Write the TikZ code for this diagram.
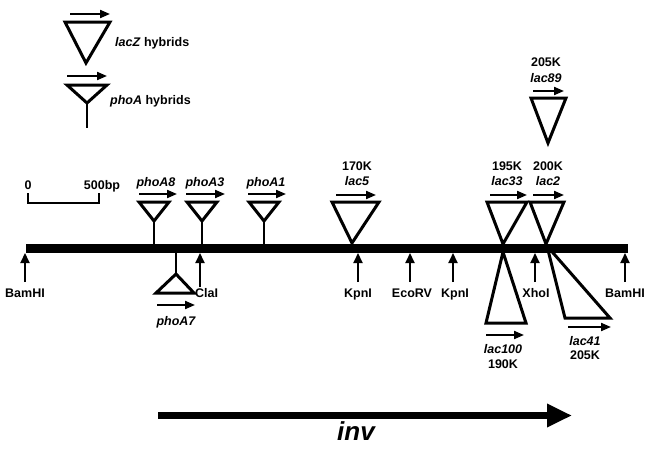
\documentclass[tikz,border=0pt]{standalone}
\usepackage{fontspec}
\setmainfont{Liberation Sans}
\usetikzlibrary{arrows.meta,positioning}

\begin{document}
\begin{tikzpicture}[
    x=1pt, y=-1pt,
    every node/.style={font=\fontsize{12.5}{14}\selectfont\bfseries, inner sep=0pt,
                       text height=9pt, text depth=2.5pt},
    gene/.style={font=\fontsize{12.5}{14}\selectfont\bfseries\itshape},
    ins/.style={line width=3pt, line join=miter},
    stem/.style={line width=2.6pt},
    sense/.style={-{Triangle[length=10pt,width=8pt]}, line width=2pt},
    site/.style={-{Triangle[length=10pt,width=9pt]}, line width=2pt},
  ]
  \useasboundingbox (0,0) rectangle (650,450);

  % key
  \draw[ins] (65,22) -- (110,22) -- (86,63) -- cycle;
  \draw[sense] (70,14) -- (110,14);
  \node[anchor=west] (keylac) at (115,43) {\textit{lacZ} hybrids};
  \draw[ins] (67,85) -- (107,85) -- (87,103) -- cycle;
  \draw[stem] (87,103) -- (87,128);
  \draw[sense] (67,76) -- (107,76);
  \node[anchor=west] (keypho) at (110,101) {\textit{phoA} hybrids};

  % scale
  \node (zero) at (28,186) {0};
  \node (bp) at (102,186) {500bp};
  \draw[line width=1.2pt] (28,193) -- (28,203) -- (99,203) -- (99,193);

  % map
  \coordinate (bamL) at (26,248.5);
  \coordinate (bamR) at (628,248.5);
  \draw[line width=9pt] (bamL) -- (bamR);

  % sites
  \coordinate (s1) at (25,253);  \node (bam1) at (25,294) {BamHI};
  \coordinate (s2) at (200,253); \node[anchor=west] (cla) at (195,294) {ClaI};
  \coordinate (s3) at (358,253); \node (kpn1) at (358,294) {KpnI};
  \coordinate (s4) at (410,253); \node (eco) at (412,294) {EcoRV};
  \coordinate (s5) at (453,253); \node (kpn2) at (455,294) {KpnI};
  \coordinate (s6) at (535,253); \node (xho) at (536,294) {XhoI};
  \coordinate (s7) at (625,253); \node (bam2) at (625,294) {BamHI};
  \draw[site, shorten <=6pt] (bam1.north -| s1) -- (s1);
  \draw[site, shorten <=1pt] (cla.north -| s2) -- (s2);
  \draw[site, shorten <=6pt] (kpn1.north -| s3) -- (s3);
  \draw[site, shorten <=6pt] (eco.north -| s4) -- (s4);
  \draw[site, shorten <=6pt] (kpn2.north -| s5) -- (s5);
  \draw[site, shorten <=6pt] (xho.north -| s6) -- (s6);
  \draw[site, shorten <=6pt] (bam2.north -| s7) -- (s7);

  % phoA fusions
  \draw[stem] (154,244) -- (154,221);
  \draw[ins] (139,202) -- (169,202) -- (154,221) -- cycle;
  \draw[sense] (139,194) -- (177,194);
  \node[gene] (pho8) at (156,183) {phoA8};

  \draw[stem] (202,244) -- (202,221);
  \draw[ins] (187,202) -- (217,202) -- (202,221) -- cycle;
  \draw[sense] (186,194) -- (225,194);
  \node[gene] (pho3) at (205,183) {phoA3};

  \draw[stem] (264,244) -- (264,221);
  \draw[ins] (249,202) -- (279,202) -- (264,221) -- cycle;
  \draw[sense] (248,194) -- (286,194);
  \node[gene] (pho1) at (266,183) {phoA1};

  \draw[stem] (176,253) -- (176,274);
  \draw[ins] (156,293) -- (194,293) -- (176,274) -- cycle;
  \draw[sense] (157,305) -- (195,305);
  \node[gene] (pho7) at (176,322) {phoA7};

  % lacZ fusions
  \draw[ins] (332,202) -- (379,202) -- (352,243) -- cycle;
  \draw[sense] (336,195) -- (376,195);
  \node[gene] (l5) at (357,182) {lac5};
  \node[above=3pt of l5] {170K};

  \draw[ins] (487,202) -- (527,202) -- (503,244) -- cycle;
  \draw[sense] (490,195) -- (527,195);
  \node[gene] (l33) at (507,182) {lac33};
  \node[above=3pt of l33] {195K};

  \draw[ins] (530,202) -- (564,202) -- (546,244) -- cycle;
  \draw[sense] (533,195) -- (564,195);
  \node[gene] (l2) at (548,182) {lac2};
  \node[above=3pt of l2] {200K};

  \draw[ins] (531,98) -- (566,98) -- (548,143) -- cycle;
  \draw[sense] (533,91) -- (564,91);
  \node[gene] (l89) at (546,79) {lac89};
  \node[above=4pt of l89] {205K};

  \draw[ins] (503,252) -- (526,323) -- (486,323) -- cycle;
  \draw[sense] (486,335) -- (524,335);
  \node[gene] (l100) at (503,350) {lac100};
  \node[below=3pt of l100] {190K};

  \draw[ins] (547,246) -- (610,318) -- (565,318) -- cycle;
  \draw[sense] (568,327) -- (611,327);
  \node[gene] (l41) at (585,342) {lac41};
  \node[below=2pt of l41] {205K};

  % inv
  \coordinate (invA) at (158,415.5);
  \coordinate (invB) at (572,415.5);
  \draw[-{Triangle[length=25pt,width=22pt]}, line width=7pt] (invA) -- (invB);
  \node[anchor=base, font=\fontsize{26}{30}\selectfont\bfseries\itshape,
        text height=, text depth=] (inv) at (356,440) {inv};
\end{tikzpicture}
\end{document}
